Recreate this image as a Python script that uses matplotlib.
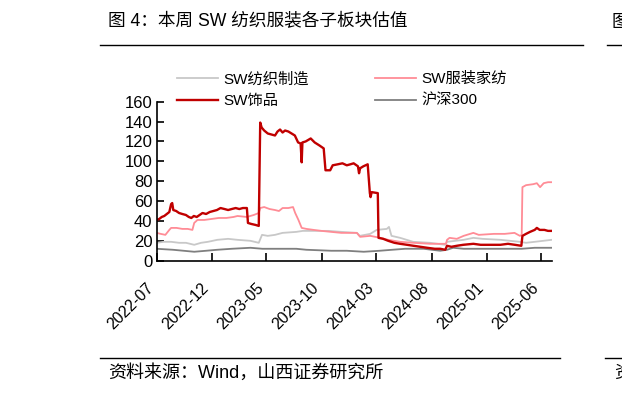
import pandas as pd
import matplotlib
matplotlib.use("Agg")
import matplotlib.pyplot as plt
import matplotlib.dates as mdates
from matplotlib.lines import Line2D

plt.rcParams["font.family"] = ["Liberation Sans", "Noto Sans CJK SC", "DejaVu Sans"]

# SW饰品
acc_dates = ["2022-07-01", "2022-07-08", "2022-07-15", "2022-07-22", "2022-07-29", "2022-08-05",
             "2022-08-10", "2022-08-13", "2022-08-16", "2022-08-24", "2022-09-01", "2022-09-10",
             "2022-09-20", "2022-09-28", "2022-10-05", "2022-10-12", "2022-10-20", "2022-10-28",
             "2022-11-05", "2022-11-15", "2022-11-25", "2022-12-05", "2022-12-15", "2022-12-25",
             "2023-01-05", "2023-01-15", "2023-01-25", "2023-02-05", "2023-02-15", "2023-02-25",
             "2023-03-08", "2023-03-11", "2023-03-20", "2023-04-01", "2023-04-10", "2023-04-14",
             "2023-04-18", "2023-04-25", "2023-05-05", "2023-05-15", "2023-05-25", "2023-06-01",
             "2023-06-08", "2023-06-15", "2023-06-22", "2023-07-01", "2023-07-10", "2023-07-19",
             "2023-07-28", "2023-08-04", "2023-08-07", "2023-08-09", "2023-08-18", "2023-09-01",
             "2023-09-12", "2023-09-25", "2023-10-07", "2023-10-12", "2023-10-25", "2023-11-01",
             "2023-11-15", "2023-11-28", "2023-12-10", "2023-12-20", "2023-12-29", "2024-01-10",
             "2024-01-13", "2024-01-16", "2024-01-25", "2024-02-06", "2024-02-12", "2024-02-14",
             "2024-02-17", "2024-03-05", "2024-03-07", "2024-03-20", "2024-04-03", "2024-04-20",
             "2024-05-06", "2024-05-25", "2024-06-12", "2024-07-01", "2024-07-20", "2024-08-10",
             "2024-08-25", "2024-09-08", "2024-09-13", "2024-09-25", "2024-10-10", "2024-10-28",
             "2024-11-25", "2024-12-15", "2025-01-05", "2025-02-08", "2025-03-01", "2025-03-20",
             "2025-04-07", "2025-04-10", "2025-04-20", "2025-05-01", "2025-05-14", "2025-05-20",
             "2025-05-28", "2025-06-10", "2025-06-20", "2025-06-30"]
acc_vals = [41, 42, 44, 45, 47, 49,
            57, 58, 51, 50, 48, 47,
            46, 44, 43, 45, 44, 46,
            48, 47, 49, 50, 51, 53,
            52, 51, 52, 53, 52, 53,
            53, 38, 37, 36, 35, 139,
            134, 131, 128, 127, 126, 130,
            132, 129, 131, 130, 128, 126,
            119, 118, 99, 119, 120, 123,
            119, 116, 113, 91, 91, 96,
            97, 98, 96, 97, 98, 95,
            88, 93, 95, 97, 68, 64,
            69, 68, 23, 22, 20, 18,
            17, 16, 15, 14, 13, 12,
            12, 11, 15, 14, 15, 16,
            17, 16, 16, 16, 17, 16,
            15, 25, 27, 29, 31, 33,
            31, 31, 30, 30]

# SW服装家纺
app_dates = ["2022-07-01", "2022-07-12", "2022-07-25", "2022-08-05", "2022-08-10", "2022-08-25",
             "2022-09-10", "2022-09-25", "2022-10-08", "2022-10-13", "2022-10-22", "2022-11-10",
             "2022-11-30", "2022-12-20", "2023-01-10", "2023-01-30", "2023-02-10", "2023-03-08",
             "2023-03-27", "2023-04-10", "2023-04-14", "2023-04-25", "2023-05-10", "2023-05-25",
             "2023-06-05", "2023-06-15", "2023-07-01", "2023-07-14", "2023-07-20", "2023-07-29",
             "2023-08-07", "2023-08-20", "2023-09-09", "2023-10-01", "2023-10-28", "2023-11-25",
             "2023-12-20", "2024-01-07", "2024-01-16", "2024-02-13", "2024-03-12", "2024-04-03",
             "2024-05-06", "2024-06-12", "2024-07-28", "2024-09-01", "2024-09-10", "2024-09-13",
             "2024-09-20", "2024-10-10", "2024-10-29", "2024-11-25", "2024-12-10", "2025-01-21",
             "2025-02-20", "2025-03-19", "2025-04-03", "2025-04-08", "2025-04-10", "2025-04-20",
             "2025-05-10", "2025-05-20", "2025-05-29", "2025-06-08", "2025-06-20", "2025-06-30"]
app_vals = [28, 27, 26, 31, 33, 33,
            32, 32, 31, 38, 41, 41,
            42, 43, 43, 44, 45, 44,
            46, 48, 53, 54, 52, 51,
            50, 53, 53, 54, 48, 41,
            33, 32, 31, 30, 29, 28,
            28, 28, 24, 25, 23, 21,
            19, 18, 17, 17, 17, 21,
            23, 22, 25, 28, 26, 27,
            27, 28, 25, 26, 74, 76,
            77, 78, 74, 78, 79, 79]

# SW纺织制造
tex_dates = ["2022-07-01", "2022-07-20", "2022-08-10", "2022-09-01", "2022-09-20", "2022-10-13",
             "2022-11-01", "2022-11-20", "2022-12-16", "2023-01-15", "2023-02-10", "2023-03-18",
             "2023-04-10", "2023-04-19", "2023-05-05", "2023-05-25", "2023-06-15", "2023-07-23",
             "2023-08-10", "2023-09-15", "2023-10-20", "2023-11-25", "2024-01-07", "2024-01-15",
             "2024-02-13", "2024-03-02", "2024-03-30", "2024-04-05", "2024-04-12", "2024-05-06",
             "2024-06-11", "2024-07-28", "2024-09-08", "2024-09-13", "2024-10-29", "2024-11-25",
             "2024-12-20", "2025-02-08", "2025-04-03", "2025-04-20", "2025-05-14", "2025-06-30"]
tex_vals = [18, 19, 19, 18, 18, 16,
            18, 19, 21, 22, 21, 20,
            18, 26, 25, 26, 28, 29,
            30, 30, 30, 29, 28, 25,
            27, 31, 32, 34, 25, 23,
            19, 18, 16, 19, 21, 23,
            22, 21, 19, 18, 19, 21]

# 沪深300
hs_dates = ["2022-07-01", "2022-08-15", "2022-10-13", "2022-11-15", "2022-12-16", "2023-01-25",
            "2023-03-18", "2023-04-20", "2023-06-01", "2023-07-23", "2023-08-20", "2023-10-28",
            "2023-12-10", "2024-01-26", "2024-03-10", "2024-04-14", "2024-05-20", "2024-07-10",
            "2024-08-25", "2024-09-13", "2024-09-30", "2024-10-29", "2024-11-25", "2025-01-10",
            "2025-02-20", "2025-04-08", "2025-05-14", "2025-06-30"]
hs_vals = [12, 11, 9, 10, 11, 12,
           13, 12, 12, 12, 11, 10,
           10, 9, 10, 11, 12, 12,
           10, 11, 13, 12, 12, 12,
           12, 12, 13, 13]

tick_dates = ["2022-07-01", "2022-12-01", "2023-05-01", "2023-10-01",
              "2024-03-01", "2024-08-01", "2025-01-01", "2025-06-01"]

W, H = 622, 394
fig = plt.figure(figsize=(W / 100, H / 100), dpi=100)
ax = fig.add_axes([156.7 / W, 1 - 260.7 / H, (552 - 156.7) / W, (260.7 - 101.7) / H])

l_tex, = ax.plot(pd.to_datetime(tex_dates), tex_vals, color="#C8C8C8", lw=1.3)
l_hs, = ax.plot(pd.to_datetime(hs_dates), hs_vals, color="#7F7F7F", lw=1.3)
l_app, = ax.plot(pd.to_datetime(app_dates), app_vals, color="#FF8C96", lw=1.3)
l_acc, = ax.plot(pd.to_datetime(acc_dates), acc_vals, color="#C00000", lw=1.7)

ax.set_xlim(pd.Timestamp("2022-07-01"), pd.Timestamp("2025-07-01"))
ax.set_ylim(0, 160)
ax.set_yticks(range(0, 161, 20))
ax.set_xticks(pd.to_datetime(tick_dates))
ax.xaxis.set_major_formatter(mdates.DateFormatter("%Y-%m"))
for s in ["top", "right"]:
    ax.spines[s].set_visible(False)
for s in ["left", "bottom"]:
    ax.spines[s].set_linewidth(1.2)
ax.tick_params(axis="y", direction="in", length=5, width=1.2, pad=3, labelsize=12)
ax.tick_params(axis="x", direction="in", length=6, width=1.2, pad=14, labelsize=11.5)
plt.setp(ax.get_xticklabels(), rotation=45, ha="right")

fig.legend([l_tex, l_acc, l_app, l_hs], ["SW纺织制造", "SW饰品", "SW服装家纺", "沪深300"],
           loc="upper left", bbox_to_anchor=(177 / W, 1 - 72 / H), ncol=2, frameon=False,
           fontsize=11, borderpad=0, borderaxespad=0, handlelength=2.7,
           handletextpad=0.35, columnspacing=4.3, labelspacing=0.5)

# header and footer
fig.text(108 / W, 1 - 22 / H, "图 4：本周 SW 纺织服装各子板块估值", fontsize=12.7, va="center")
fig.text(612 / W, 1 - 22 / H, "图", fontsize=12.7, va="center")
fig.add_artist(Line2D([100 / W, 583 / W], [1 - 45 / H] * 2, color="black", lw=1))
fig.add_artist(Line2D([607 / W, 1], [1 - 45 / H] * 2, color="black", lw=1))
fig.add_artist(Line2D([100 / W, 560 / W], [1 - 358 / H] * 2, color="black", lw=1))
fig.add_artist(Line2D([605 / W, 1], [1 - 358 / H] * 2, color="black", lw=1))
fig.text(108 / W, 1 - 373 / H, "资料来源：Wind，山西证券研究所", fontsize=13, va="center")
fig.text(614 / W, 1 - 373 / H, "资", fontsize=13, va="center")

fig.savefig("out.png", dpi=100)
